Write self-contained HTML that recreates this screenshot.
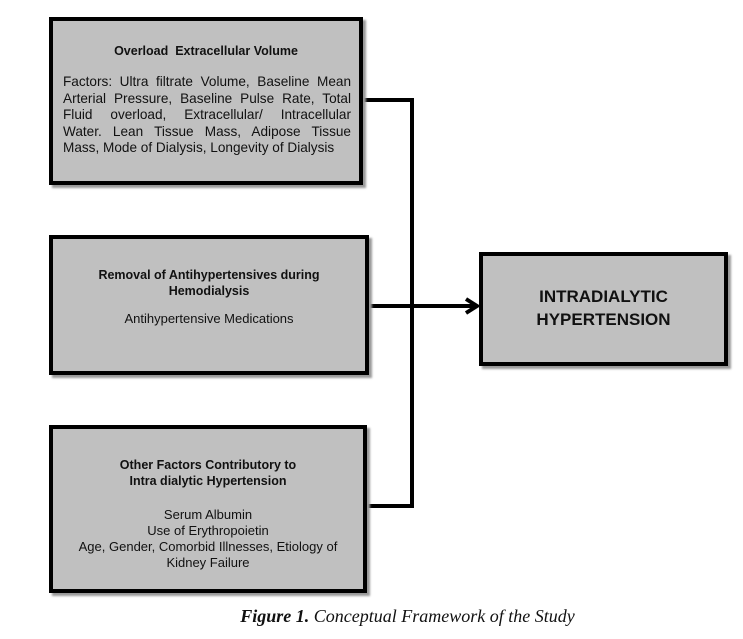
<!DOCTYPE html>
<html><head><style>
body{margin:0;width:743px;height:639px;background:#fff;position:relative;font-family:"Liberation Sans",Arial,sans-serif;color:#111;overflow:hidden}
.b{position:absolute;background:#c0c0c0;border:4px solid #000;box-sizing:border-box;box-shadow:3px 3px 2px #999;text-align:center;font-size:13px;line-height:16px}
.h{font-weight:bold;font-size:12.5px}
.l{position:absolute;background:#000}
.j{text-align:justify;text-align-last:justify;white-space:nowrap;display:block}
</style></head><body>
<div class="l" style="left:362px;top:98px;width:52px;height:4px"></div>
<div class="l" style="left:410px;top:98px;width:4px;height:410px"></div>
<div class="l" style="left:366px;top:504px;width:48px;height:4px"></div>
<div class="l" style="left:366px;top:304px;width:108px;height:4px"></div>
<svg style="position:absolute;left:462px;top:296px" width="20" height="20"><polyline points="4,3 15,10 4,17" fill="none" stroke="#000" stroke-width="4"/></svg>
<div class="b" style="left:49px;top:17px;width:314px;height:168px;padding:22px 10px 0 10px">
<div class="h">Overload&nbsp; Extracellular Volume</div>
<div style="margin-top:15px;font-size:13.6px;line-height:16.5px;text-align:left;width:288px">
<div class="j" style="white-space:normal">Factors: Ultra filtrate Volume, Baseline Mean</div>
<div class="j" style="white-space:normal">Arterial Pressure, Baseline Pulse Rate, Total</div>
<div class="j" style="white-space:normal">Fluid overload, Extracellular/ Intracellular</div>
<div class="j" style="white-space:normal">Water. Lean Tissue Mass, Adipose Tissue</div>
<div style="white-space:nowrap">Mass, Mode of Dialysis, Longevity of Dialysis</div>
</div>
</div>
<div class="b" style="left:49px;top:235px;width:320px;height:140px;padding:28px 8px 0">
<div class="h">Removal of Antihypertensives during<br>Hemodialysis</div>
<div style="margin-top:12px">Antihypertensive Medications</div>
</div>
<div class="b" style="left:49px;top:425px;width:318px;height:168px;padding:28px 8px 0">
<div class="h">Other Factors Contributory to<br>Intra dialytic Hypertension</div>
<div style="margin-top:18px">Serum Albumin<br>Use of Erythropoietin<br>Age, Gender, Comorbid Illnesses, Etiology of<br>Kidney Failure</div>
</div>
<div class="b" style="left:479px;top:252px;width:249px;height:114px;padding:29px 0 0;font-size:17px;line-height:23px;font-weight:bold">INTRADIALYTIC<br>HYPERTENSION</div>
<div style="position:absolute;left:0;width:815px;top:606px;text-align:center;font-family:'Liberation Serif',serif;font-style:italic;font-size:18px"><b>Figure 1.</b> Conceptual Framework of the Study</div>
</body></html>
